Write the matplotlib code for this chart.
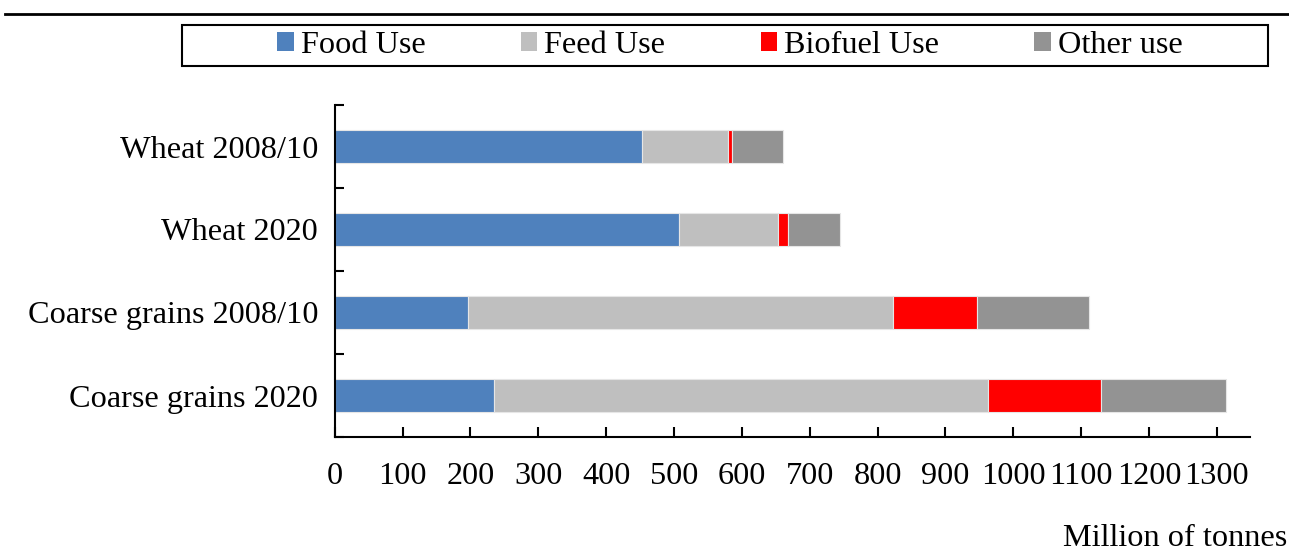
import matplotlib
matplotlib.use("Agg")
import matplotlib.pyplot as plt
from matplotlib.patches import Patch, Rectangle
from matplotlib.lines import Line2D

# Datos (millones de toneladas)
categorias = ["Wheat 2008/10", "Wheat 2020", "Coarse grains 2008/10", "Coarse grains 2020"]
food_use = [453, 508, 197, 235]
feed_use = [127, 145, 626, 728]
biofuel_use = [6, 15, 124, 167]
other_use = [74, 77, 165, 183]

series = ["Food Use", "Feed Use", "Biofuel Use", "Other use"]
colores = ["#4F81BD", "#BFBFBF", "#FF0000", "#939393"]

plt.rcParams["font.family"] = ["Liberation Serif", "DejaVu Serif"]
fs = 23.2

W, H = 1289, 550
fig = plt.figure(figsize=(W / 100, H / 100), dpi=100)
ax = fig.add_axes([334.7 / W, 1 - 437 / H, (1250 - 334.7) / W, (437 - 105) / H])

y = list(range(len(categorias)))
left = [0] * len(categorias)
for vals, nombre, col in zip([food_use, feed_use, biofuel_use, other_use], series, colores):
    ax.barh(y, vals, left=left, height=0.4, color=col, edgecolor="#E6E6E6", linewidth=0.8, label=nombre)
    left = [a + b for a, b in zip(left, vals)]

ax.set_ylim(len(categorias) - 0.5, -0.5)
ax.set_xlim(0, 1349)
ax.set_xticks(range(0, 1301, 100))
ax.set_yticks(y)
ax.set_yticklabels(categorias)
ax.set_yticks([i - 0.5 for i in range(len(categorias) + 1)], minor=True)

ax.tick_params(axis="y", which="major", length=0, pad=12, labelsize=fs)
ax.tick_params(axis="y", which="minor", direction="in", length=6.5, width=1.5)
ax.tick_params(axis="x", direction="in", length=7, width=1.5, pad=18, labelsize=fs)

for s in ["top", "right"]:
    ax.spines[s].set_visible(False)
for s in ["left", "bottom"]:
    ax.spines[s].set_linewidth(1.5)

# Línea superior
fig.add_artist(Line2D([5 / W, 1], [1 - 14 / H, 1 - 14 / H], color="black", linewidth=2))

# Leyenda con marco
fig.add_artist(Rectangle((182 / W, 1 - 66 / H), (1268 - 182) / W, 41 / H,
                         fill=False, edgecolor="black", linewidth=1.5, transform=fig.transFigure))
handles = [Patch(facecolor=c, edgecolor="none") for c in colores]
fig.legend(handles, series, loc="center", bbox_to_anchor=(730 / W, 1 - 45.5 / H), ncol=4,
           frameon=False, fontsize=fs, handlelength=0.52, handleheight=0.5,
           handletextpad=0.22, columnspacing=2.95, borderpad=0)

fig.text(1287 / W, 1 - 538 / H, "Million of tonnes", ha="right", va="center", fontsize=fs)

fig.savefig("out.png", dpi=100)
